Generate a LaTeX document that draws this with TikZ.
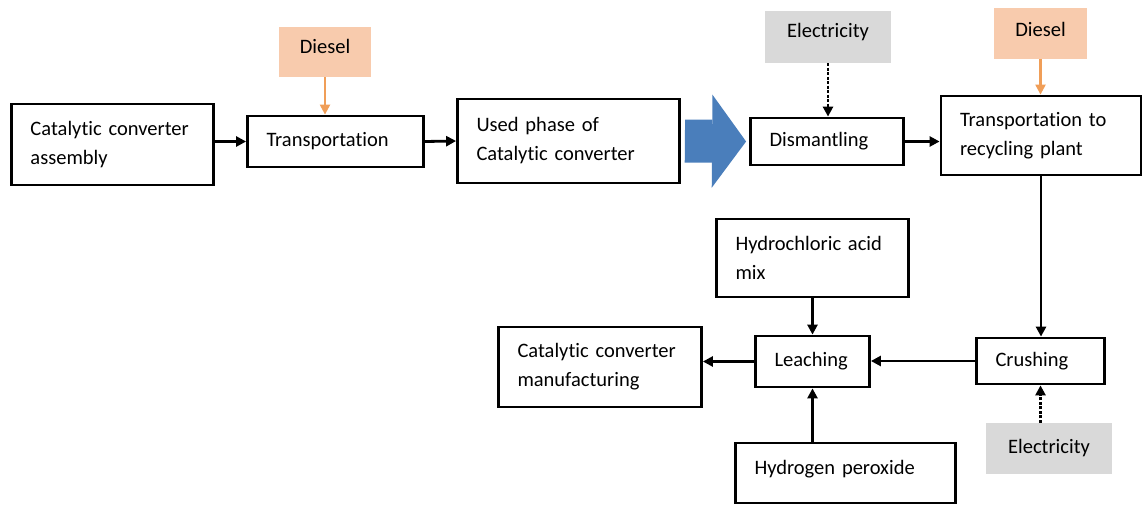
\documentclass[tikz,border=0pt]{standalone}
\usepackage{fontspec}
\setmainfont{Carlito}[Ligatures=NoCommon]
\usetikzlibrary{arrows.meta}
\definecolor{peach}{RGB}{248,203,173}
\definecolor{fuelline}{RGB}{240,158,88}
\definecolor{mains}{RGB}{217,217,217}
\definecolor{blockblue}{RGB}{74,126,187}
\begin{document}
\begin{tikzpicture}[
	x=1pt, y=-1pt,
	font=\fontsize{20.5}{29}\selectfont,
	box/.style={draw, line width=2.8pt, align=left, inner xsep=19pt, inner ysep=3pt},
	diesel/.style={fill=peach, inner sep=0pt},
	elec/.style={fill=mains, inner sep=0pt},
	flow/.style={line width=2.8pt, -{Triangle[length=10pt,width=10pt]}},
	fuel/.style={draw=fuelline, line width=2.2pt, -{Triangle[length=10pt,width=10pt]}},
	power/.style={line width=2.8pt, dash pattern=on 3pt off 1.5pt, -{Triangle[length=10pt,width=10pt]}},
	block/.style={draw=blockblue, line width=43pt, -{Triangle[length=34pt,width=93pt,line width=0pt]}},
	]
\useasboundingbox (0,0) rectangle (1143,506);
\node [box, text width=164pt, minimum height=81pt] (asm) at (112.5,144.5) {Catalytic converter\\assembly};
\node [box, text width=138pt, minimum height=51pt] (trans) at (335.5,141.5) {Transportation};
\node [box, text width=184pt, minimum height=84pt] (used) at (568.5,141) {Used phase of\\Catalytic converter};
\node [box, text width=115pt, minimum height=47pt] (dis) at (827,141.5) {Dismantling};
\node [box, text width=162pt, minimum height=79pt] (rec) at (1041,135.5) {Transportation to\\recycling plant};
\node [box, text width=90pt, minimum height=46pt] (crush) at (1040.5,361) {Crushing};
\node [box, text width=76pt, minimum height=51pt] (leach) at (812.5,361.5) {Leaching};
\node [box, text width=154pt, minimum height=78pt] (hcl) at (812.5,258) {Hydrochloric acid\\mix};
\node [box, text width=182pt, minimum height=60pt, text depth=12pt] (hp) at (845.5,473) {Hydrogen peroxide};
\node [box, text width=165pt, minimum height=80pt] (manu) at (600,367) {Catalytic converter\\manufacturing};
\node [diesel, minimum width=92pt, minimum height=50pt, text depth=12pt] (d1) at (325,52) {Diesel};
\node [elec, minimum width=126pt, minimum height=52pt, text depth=14pt] (e1) at (828,37) {Electricity};
\node [diesel, minimum width=93pt, minimum height=51pt, text depth=8pt] (d2) at (1040.5,33.5) {Diesel};
\node [elec, minimum width=126pt, minimum height=51pt] (e2) at (1049,448.5) {Electricity};
\draw [flow] (trans.west -| asm.east) -- (trans.west);
\draw [flow] (trans.east) -- (used.west);
\draw [block] ([xshift=4pt]used.east) -- ([xshift=-3pt]dis.west);
\draw [flow] (dis.east) -- (dis.east -| rec.west);
\draw [flow] (rec.south) -- (rec.south |- crush.north);
\draw [flow] (crush.west) -- (crush.west -| leach.east);
\draw [flow] (leach.west) -- (leach.west -| manu.east);
\draw [flow] (hcl.south) -- (leach.north);
\draw [flow] (hp.north -| leach.south) -- (leach.south);
\draw [fuel] (d1.south) -- (d1.south |- trans.north);
\draw [fuel] (d2.south) -- (d2.south |- rec.north);
\draw [power] (e1.south) -- (e1.south |- dis.north);
\draw [power] (crush.south |- e2.north) -- (crush.south);
\end{tikzpicture}
\end{document}
